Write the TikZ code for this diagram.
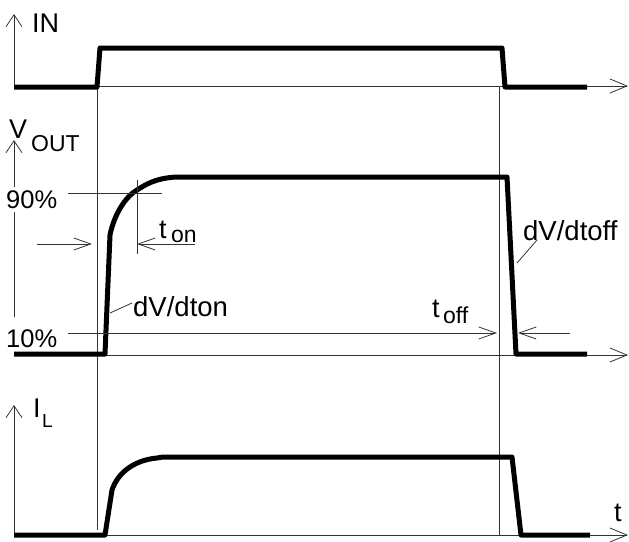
\documentclass[tikz,border=0pt]{standalone}
\usepackage{fontspec}
\setmainfont{Liberation Sans}
\usetikzlibrary{arrows.meta}
\begin{document}
\begin{tikzpicture}[x=1pt,y=-1pt,
  thin line/.style={line width=0.8pt,draw=black!80},
  sig/.style={line width=5pt,line join=round,line cap=butt},
  xaxis/.style={thin line,-{Straight Barb[length=17pt,width=14pt,line width=0.8pt]}},
  yaxis/.style={thin line,-{Straight Barb[length=12pt,width=16pt,line width=0.8pt]}},
  dimarrow/.style={thin line,-{Straight Barb[length=17pt,width=12pt,line width=0.8pt]}},
  big/.style={inner sep=0pt,anchor=base west,font=\fontsize{27}{32}\selectfont},
  small/.style={inner sep=0pt,anchor=base west,font=\fontsize{23}{28}\selectfont},
  pct/.style={inner sep=0pt,anchor=base west,font=\fontsize{25.5}{30}\selectfont},
  label/.style={inner sep=0pt,anchor=base west,font=\fontsize{27.5}{32}\selectfont}]
\useasboundingbox (0,0) rectangle (629,541);

% ---------- coordinates ----------
\coordinate (inO) at (14,86);   \coordinate (inT) at (14,14);   \coordinate (inE) at (628,86);
\coordinate (voO) at (14,355);  \coordinate (voE) at (628,355);
\coordinate (ilO) at (14,535);  \coordinate (ilT) at (14,405);  \coordinate (ilE) at (628,535);
\coordinate (v1a) at (97,86);   \coordinate (v1b) at (97,530);
\coordinate (v2a) at (499,86);  \coordinate (v2b) at (499,535);

% ---------- axes ----------
\draw[xaxis] (inO) -- (inE);
\draw[yaxis] (14,87) -- (inT);
\draw[xaxis] (voO) -- (voE);
\draw[thin line] (14,317) -- (14,212);
\draw[yaxis] (14,187) -- (14,140);
\draw[xaxis] (ilO) -- (ilE);
\draw[yaxis] (14,535) -- (ilT);

% ---------- vertical reference lines ----------
\draw[thin line] (v1a) -- (v1b);
\draw[thin line] (v2a) -- (v2b);

% ---------- IN ----------
\draw[sig] (14,87) -- (97,87) -- (100,48) -- (502,48) -- (505,87) -- (587,87);

% ---------- VOUT ----------
\draw[sig] (14,354) -- (105,354) -- (110,235)
  .. controls (114,215) and (125,197) .. (137,190)
  .. controls (145,185) and (155,178) .. (177,177)
  -- (507,177) -- (516,354) -- (587,354);

% ---------- IL ----------
\draw[sig] (14,535) -- (105,535) -- (112,490)
  .. controls (118,472) and (135,460) .. (157,458)
  -- (163,457) -- (512,457) -- (521,535) -- (590,535);

% ---------- measurement lines ----------
\coordinate (p90a) at (68,193); \coordinate (p90b) at (162,193);
\draw[thin line] (p90a) -- (p90b);
\coordinate (p10a) at (68,333); \coordinate (p10b) at (497,333);
\draw[dimarrow] (p10a) -- (p10b);
\coordinate (offR) at (570,333); \coordinate (offT) at (518,333);
\draw[dimarrow] (offR) -- (offT);
\coordinate (tonV1) at (137,180); \coordinate (tonV2) at (137,254);
\draw[thin line] (tonV1) -- (tonV2);
\coordinate (tonL) at (37,244); \coordinate (tonLT) at (92,244);
\draw[dimarrow] (tonL) -- (tonLT);
\coordinate (tonR) at (195,244); \coordinate (tonRT) at (137,244);
\draw[dimarrow] (tonR) -- (tonRT);
\coordinate (ldA) at (110,313); \coordinate (ldB) at (132,303);
\draw[thin line] (ldA) -- (ldB);
\coordinate (lfA) at (517,263); \coordinate (lfB) at (537,240);
\draw[thin line] (lfA) -- (lfB);

% ---------- texts ----------
\node[big] (tIN) at (32,32) {IN};
\node[big] (tV) at (9,138) {V};
\node[small] (tOUT) at (31,151) {OUT};
\node[pct] (t90) at (6,208) {90\%};
\node[pct] (t10) at (6,347) {10\%};
\node[big] (tt1) at (159,238) {t};
\node[small] (ton) at (171,242) {on};
\node[label] (tdon) at (133,316) {dV/dton};
\node[label] (tdoff) at (523,240) {dV/dtoff};
\node[big] (tt2) at (432,317) {t};
\node[small] (toff) at (443,323) {off};
\node[big] (tI) at (33,417) {I};
\node[small,font=\fontsize{19}{22}\selectfont] (tL) at (42,427) {L};
\node[big] (tt) at (614,521) {t};
\end{tikzpicture}
\end{document}
